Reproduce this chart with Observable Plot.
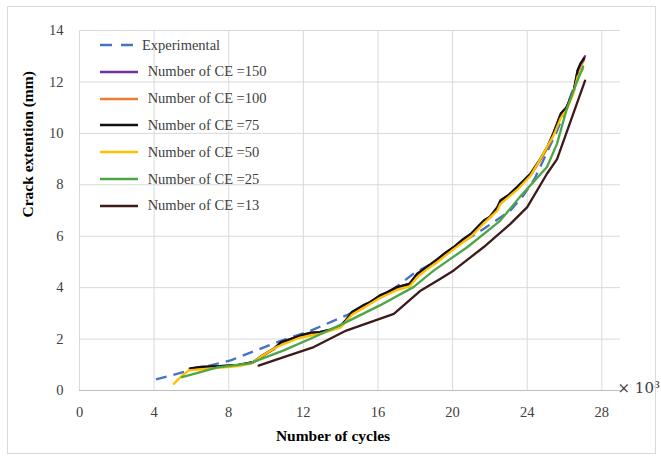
<!DOCTYPE html>
<html><head><meta charset="utf-8">
<script src="https://cdn.jsdelivr.net/npm/d3@7"></script>
<script src="https://cdn.jsdelivr.net/npm/@observablehq/plot@0.6"></script>
<style>
body{margin:0;background:#fff;}
#wrap{position:relative;width:661px;height:457px;overflow:hidden;}
#border{position:absolute;left:7px;top:6px;width:647px;height:446px;border:1px solid #d9d9d9;pointer-events:none;}
#legend{position:absolute;left:0;top:0;font-family:"Liberation Serif",serif;font-size:14.5px;color:#404040;}
.row{position:absolute;left:100px;height:20px;display:flex;align-items:center;white-space:pre;}
.row svg{margin-right:4px;}
</style></head>
<body><div id="wrap"><div id="border"></div><div id="legend"></div></div>
<script>
const xTicks = [0, 4, 8, 12, 16, 20, 24, 28];
const yTicks = [0, 2, 4, 6, 8, 10, 12, 14];
const seriesNames = ["Experimental", "Number of CE =150", "Number of CE =100", "Number of CE =75", "Number of CE =50", "Number of CE =25", "Number of CE =13"];
const seriesColors = ["#4472C4", "#7030A0", "#ED7D31", "#111111", "#FFC000", "#4CA646", "#3E1A1A"];

const experimental = [[4.1,0.43],[6.0,0.8],[8.1,1.17],[10.6,1.88],[12.4,2.33],[14.3,2.92],[16.5,3.76],[17.9,4.54],[19.0,4.99],[20.4,5.71],[21.7,6.3],[23.1,7.0],[23.8,7.59],[24.4,8.24],[25.6,10.1],[26.1,11.0],[26.4,11.6],[26.8,12.4]];
const ce150 = [[5.9,0.85],[6.6,0.92],[7.6,0.95],[8.6,1.0],[9.3,1.1],[9.8,1.36],[10.4,1.62],[10.8,1.86],[11.3,2.0],[11.8,2.12],[12.4,2.24],[12.9,2.28],[13.5,2.37],[14.0,2.52],[14.3,2.74],[14.6,3.03],[15.2,3.3],[15.6,3.45],[16.1,3.68],[16.5,3.83],[17.0,4.0],[17.7,4.16],[18.1,4.52],[18.6,4.78],[19.2,5.1],[19.6,5.34],[20.1,5.58],[20.5,5.84],[21.0,6.1],[21.7,6.6],[22.0,6.76],[22.4,7.12],[22.6,7.38],[23.0,7.6],[23.5,7.92],[24.2,8.42],[24.7,9.0],[25.1,9.5],[25.4,10.0],[25.8,10.75],[26.1,11.0],[26.5,11.7],[26.7,12.45],[26.85,12.7],[27.1,13.0]];
const ce100 = [[5.95,0.84],[6.6,0.9],[7.6,0.94],[8.6,0.99],[9.3,1.08],[9.8,1.33],[10.4,1.6],[10.8,1.84],[11.3,1.98],[11.8,2.1],[12.4,2.22],[12.9,2.25],[13.5,2.35],[14.0,2.5],[14.3,2.72],[14.6,3.0],[15.2,3.28],[15.6,3.42],[16.1,3.66],[16.5,3.8],[17.0,3.98],[17.7,4.12],[18.1,4.5],[18.6,4.76],[19.2,5.08],[19.6,5.3],[20.1,5.55],[20.5,5.8],[21.0,6.06],[21.7,6.56],[22.0,6.72],[22.4,7.08],[22.6,7.34],[23.0,7.56],[23.5,7.88],[24.2,8.38],[24.7,8.96],[25.1,9.45],[25.4,9.95],[25.8,10.7],[26.1,10.95],[26.5,11.65],[26.7,12.35],[26.85,12.6],[27.05,12.85]];
const ce75 = [[5.95,0.86],[6.5,0.92],[7.5,0.95],[8.5,1.0],[9.3,1.1],[9.8,1.35],[10.4,1.6],[10.8,1.88],[11.3,2.0],[11.84,2.14],[12.4,2.25],[12.9,2.27],[13.5,2.38],[14.0,2.53],[14.3,2.75],[14.6,3.05],[15.2,3.31],[15.6,3.44],[16.1,3.7],[16.5,3.82],[17.0,4.02],[17.7,4.15],[18.1,4.54],[18.6,4.8],[19.2,5.12],[19.6,5.35],[20.06,5.58],[20.5,5.85],[21.0,6.1],[21.67,6.61],[22.0,6.75],[22.4,7.13],[22.56,7.39],[23.0,7.6],[23.45,7.91],[24.17,8.43],[24.7,9.0],[25.1,9.5],[25.4,10.0],[25.8,10.77],[26.1,11.0],[26.5,11.67],[26.7,12.45],[26.85,12.7],[27.05,12.92]];
const ce50 = [[5.05,0.26],[5.5,0.58],[5.86,0.78],[7.0,0.85],[8.5,0.95],[9.2,1.05],[9.8,1.35],[10.6,1.7],[11.8,2.05],[12.9,2.2],[14.0,2.45],[14.6,2.95],[15.2,3.2],[16.1,3.6],[17.0,3.9],[17.7,4.05],[18.1,4.4],[18.6,4.7],[19.2,5.0],[20.06,5.5],[21.0,6.0],[21.67,6.5],[22.4,7.0],[22.56,7.25],[23.45,7.8],[24.17,8.35],[24.7,9.0],[25.4,9.9],[25.8,10.6],[26.1,10.9],[26.5,11.6],[26.7,12.2],[27.0,12.5]];
const ce25 = [[5.5,0.52],[7.4,0.9],[9.16,1.06],[10.0,1.3],[10.95,1.56],[12.56,2.07],[14.3,2.66],[16.1,3.31],[17.9,4.02],[19.0,4.67],[20.8,5.58],[22.56,6.61],[23.6,7.52],[25.06,8.69],[25.6,9.6],[26.1,10.9],[26.5,11.7],[27.0,12.6]];
const ce13 = [[9.6,0.97],[10.95,1.3],[12.56,1.69],[14.3,2.33],[16.85,2.98],[18.3,3.89],[19.35,4.35],[20.06,4.67],[21.67,5.58],[23.1,6.48],[24.0,7.13],[25.06,8.43],[25.6,9.0],[27.1,12.05]];

const seriesData = [experimental, ce150, ce100, ce75, ce50, ce25, ce13];
const rows = seriesData.flatMap((pts, i) => pts.map(([x, y]) => ({x, y, s: seriesNames[i]})));

const lineMarks = seriesNames.map((name, i) => Plot.line(rows.filter(d => d.s === name), {
  x: "x", y: "y", stroke: seriesColors[i], strokeWidth: 2.3,
  strokeDasharray: i === 0 ? "11,7" : null, strokeLinejoin: "round", strokeLinecap: i === 0 ? "butt" : "round"
}));

const chart = Plot.plot({
  width: 661, height: 457,
  marginLeft: 79, marginRight: 41, marginTop: 30, marginBottom: 67,
  style: {fontFamily: "Liberation Serif, serif", fontSize: "14.5px", color: "#404040", background: "transparent"},
  x: {domain: [0, 29], ticks: xTicks, tickSize: 0, tickPadding: 16, label: null},
  y: {domain: [0, 14], ticks: yTicks, tickSize: 0, tickPadding: 16, label: null},
  marks: [
    Plot.gridX(xTicks, {stroke: "#d9d9d9", strokeOpacity: 1}),
    Plot.gridY(yTicks, {stroke: "#d9d9d9", strokeOpacity: 1}),
    Plot.ruleY([0], {stroke: "#bfbfbf"}),
    ...lineMarks,
    Plot.text(["Number of cycles"], {frameAnchor: "bottom", dy: 50, dx: -17, fontWeight: "bold", fontSize: 15.5, fill: "#000"}),
    Plot.text(["Crack extention (mm)"], {frameAnchor: "left", rotate: -90, dx: -51, dy: 7, fontWeight: "bold", fontSize: 15.5, fill: "#000"}),
    Plot.text(["× 10³"], {frameAnchor: "bottom-right", textAnchor: "start", dx: -3, dy: -2, lineAnchor: "middle", fontFamily: "DejaVu Serif, serif", fontSize: 15, fill: "#404040"})
  ]
});
const wrap = document.getElementById("wrap");
wrap.insertBefore(chart, wrap.firstChild);

const legend = document.getElementById("legend");
seriesNames.forEach((name, i) => {
  const row = document.createElement("div");
  row.className = "row";
  row.style.top = (45 + i * 26.8 - 10) + "px";
  const dash = i === 0 ? 'stroke-dasharray="12,9"' : '';
  row.innerHTML = `<svg width="${i === 0 ? 38 : 40}" height="6"><line x1="0" y1="3" x2="38" y2="3" stroke="${seriesColors[i]}" stroke-width="2.5" ${dash}/></svg><span>${i === 0 ? "" : " "}${name}</span>`;
  legend.appendChild(row);
});
</script>
</body></html>
